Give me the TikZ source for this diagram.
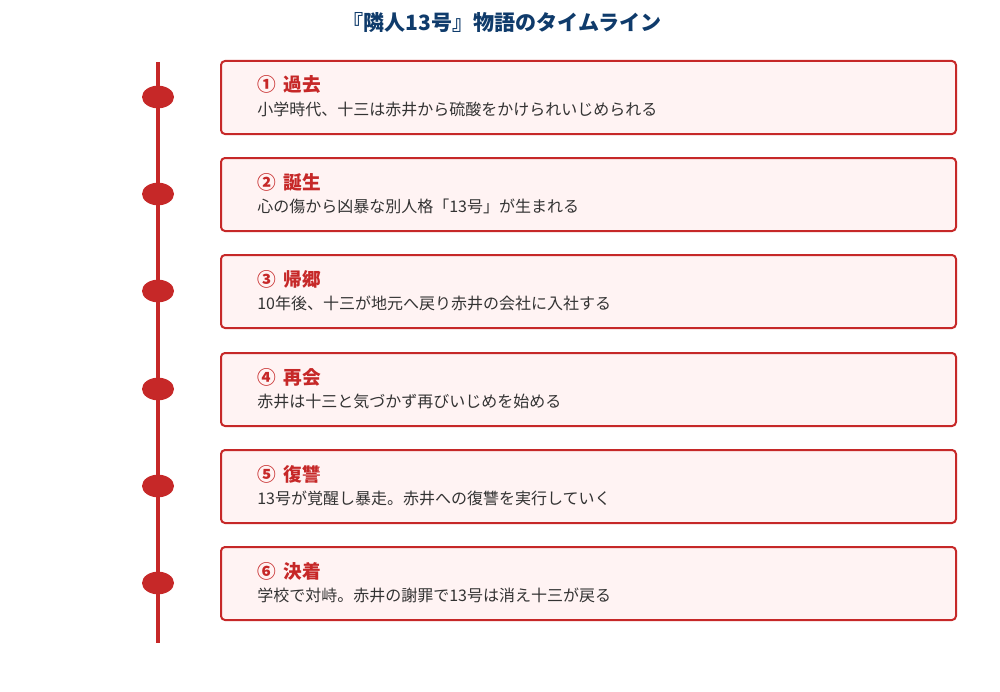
\documentclass[tikz,border=0pt]{standalone}
\usepackage{fontspec}
\usetikzlibrary{shapes.geometric}
\setmainfont{Noto Sans CJK JP}
\definecolor{accent}{HTML}{C62828}
\definecolor{boxfill}{HTML}{FFF3F3}
\definecolor{titleblue}{HTML}{0F3B6B}
\definecolor{bodygray}{HTML}{333333}
\begin{document}
\begin{tikzpicture}[x=0.75pt,y=-0.75pt,
  evbox/.style={draw=accent,line width=1.5pt,fill=boxfill,rounded corners=3pt},
  dot/.style={ellipse,fill=accent,minimum width=24pt,minimum height=17pt,inner sep=0pt},
  head/.style={anchor=west,inner sep=0pt,text=accent,font=\bfseries\fontsize{14}{16}\selectfont},
  desc/.style={anchor=west,inner sep=0pt,text=bodygray,font=\fontsize{12}{14}\selectfont}]
\useasboundingbox (0,0) rectangle (1000,692);
\node[text=titleblue,font=\bfseries\fontsize{15.8}{19}\selectfont] (title) at (502,23) {『隣人13号』物語のタイムライン};
\coordinate (top) at (158,62);
\coordinate (bot) at (158,643);
\draw[accent,line width=3pt] (top) -- (bot);
\foreach \i/\y/\h/\d in {
 1/97/①\hspace{0.4em}過去/小学時代、十三は赤井から硫酸をかけられいじめられる,
 2/194/②\hspace{0.4em}誕生/心の傷から凶暴な別人格「13号」が生まれる,
 3/291/③\hspace{0.4em}帰郷/10年後、十三が地元へ戻り赤井の会社に入社する,
 4/389/④\hspace{0.4em}再会/赤井は十三と気づかず再びいじめを始める,
 5/486/⑤\hspace{0.4em}復讐/13号が覚醒し暴走。赤井への復讐を実行していく,
 6/583/⑥\hspace{0.4em}決着/学校で対峙。赤井の謝罪で13号は消え十三が戻る}{
  \draw[evbox] (221,\y-36) rectangle (956,\y+37);
  \node[dot] (d\i) at (158,\y) {};
  \node[head] (h\i) at (257,\y-12) {\h};
  \node[desc] (t\i) at (257,\y+12) {\d};
}
\end{tikzpicture}
\end{document}
